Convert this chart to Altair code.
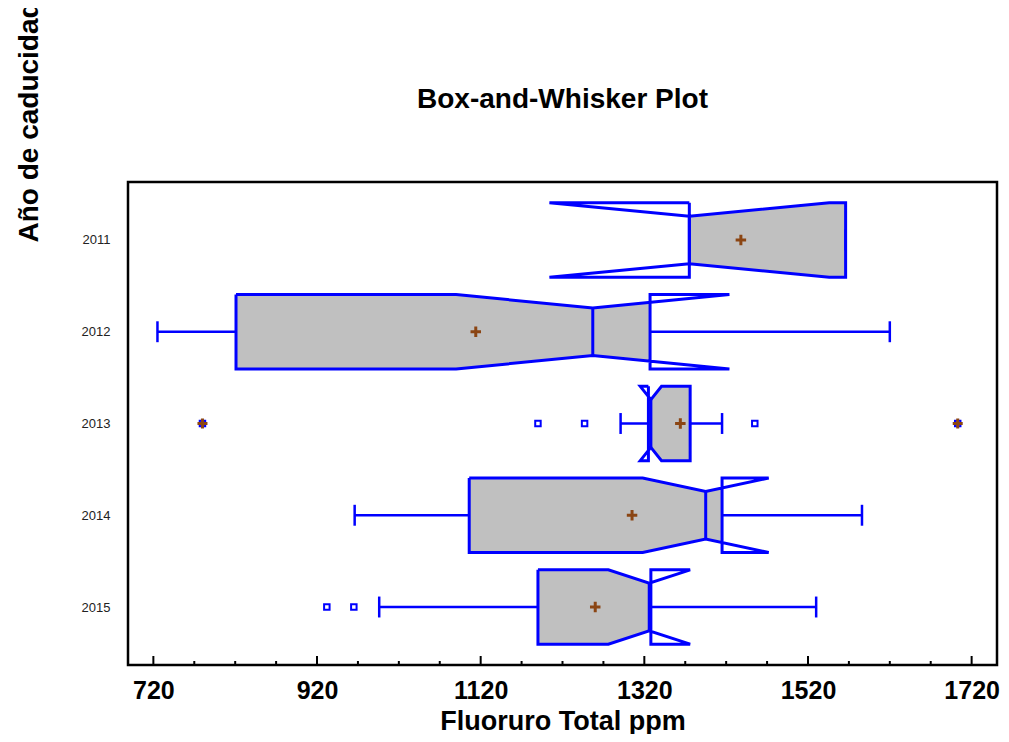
import altair as alt
import pandas as pd

# ---- data (ppm) ----
years = ["2011", "2012", "2013", "2014", "2015"]
whisker_lo = [1375, 725, 1291, 966, 996]
q1 = [1375, 821, 1325, 1106, 1190]
median = [1375, 1257, 1328, 1395, 1326]
q3 = [1566, 1327, 1376, 1415, 1328]
whisker_hi = [1566, 1620, 1415, 1586, 1530]
notch_lo = [1204, 1090, 1315, 1318, 1276]
notch_hi = [1546, 1424, 1341, 1472, 1376]
mean = [1438, 1114, 1364, 1305, 1260]
outlier_year = ["2013", "2013", "2013", "2013", "2013", "2015", "2015"]
outlier_value = [780, 1190, 1247, 1455, 1703, 932, 965]
outlier_far = [True, False, False, False, True, False, False]
major_ticks = [720, 920, 1120, 1320, 1520, 1720]
minor_ticks = [v for v in range(770, 1751, 50) if v not in major_ticks]
chart_title = ["Box-and-Whisker Plot"]

# ---- styling constants (in category units) ----
BOX = 0.405
NOTCH = 0.26
CAP = 0.114
BLUE = "#0000FF"
BROWN = "#8B4513"
FONT = "Liberation Sans"
W, H = 869, 483

def hw(i, x):
    m = median[i]
    if x <= m:
        d = m - notch_lo[i]
        t = (m - x) / d if d > 0 else 1.0
    else:
        d = notch_hi[i] - m
        t = (x - m) / d if d > 0 else 1.0
    t = min(t, 1.0)
    return NOTCH + (BOX - NOTCH) * t

fill_rows, out_rows, box_rows = [], [], []
for i, yr in enumerate(years):
    c = i
    clip = lambda v: min(max(v, q1[i]), q3[i])
    xs = sorted(set([q1[i], clip(notch_lo[i]), median[i], clip(notch_hi[i]), q3[i]]))
    for x in xs:
        h = hw(i, x)
        fill_rows.append({"year": yr, "x": x, "y": c - h, "y2": c + h})
    verts = [(q1[i], c - BOX), (notch_lo[i], c - BOX), (median[i], c - NOTCH),
             (notch_hi[i], c - BOX), (q3[i], c - BOX), (q3[i], c + BOX),
             (notch_hi[i], c + BOX), (median[i], c + NOTCH), (notch_lo[i], c + BOX),
             (q1[i], c + BOX), (q1[i], c - BOX)]
    for k, (x, y) in enumerate(verts):
        out_rows.append({"year": yr, "k": k, "x": x, "y": y})
    box_rows.append({"year": yr, "c": c, "wl": whisker_lo[i], "q1": q1[i], "med": median[i],
                     "q3": q3[i], "wh": whisker_hi[i], "mean": mean[i],
                     "ctop": c - CAP, "cbot": c + CAP, "ntop": c - NOTCH, "nbot": c + NOTCH})

fill_df = pd.DataFrame(fill_rows)
out_df = pd.DataFrame(out_rows)
box_df = pd.DataFrame(box_rows)
outl_df = pd.DataFrame({"year": outlier_year, "x": outlier_value, "far": outlier_far})
outl_df["c"] = outl_df["year"].map({y: i for i, y in enumerate(years)})
tick_df = pd.DataFrame({"t": major_ticks + minor_ticks,
                        "major": [True] * len(major_ticks) + [False] * len(minor_ticks)})

xscale = alt.Scale(domain=[689, 1751], nice=False, zero=False)
yscale = alt.Scale(domain=[-0.632, 4.632], reverse=True, nice=False, zero=False)
label_expr = "[" + ",".join("'%s'" % y for y in years) + "][datum.value]"

xaxis = alt.Axis(title="Fluoruro Total ppm", values=major_ticks, format="d", grid=False,
                 domain=False, ticks=False, tickSize=0, labelFont=FONT, labelFontSize=25,
                 labelFontWeight="bold", labelColor="black", labelBaseline="alphabetic",
                 labelPadding=33, labelFlush=False, titleFont=FONT, titleFontSize=27,
                 titleFontWeight="bold", titleColor="black", titleX=W / 2, titleY=64,
                 titleAlign="center", titleBaseline="alphabetic")
yaxis = alt.Axis(title="Año de caducidad", values=[0, 1, 2, 3, 4], labelExpr=label_expr,
                 grid=False, domain=False, ticks=False, tickSize=0, labelFont=FONT,
                 labelFontSize=13, labelColor="#222222", labelPadding=18,
                 labelBaseline="middle", titleFont=FONT, titleFontSize=28,
                 titleFontWeight="bold", titleColor="black", titleAngle=270,
                 titleX=-91, titleY=60, titleAlign="left", titleBaseline="alphabetic")

X = lambda f: alt.X(f, type="quantitative", scale=xscale, axis=xaxis)
Y = lambda f: alt.Y(f, type="quantitative", scale=yscale, axis=yaxis)

fill = alt.Chart(fill_df).mark_area(color="#C0C0C0", opacity=1).encode(
    x=X("x"), y=Y("y"), y2="y2", detail="year:N")

outline = alt.Chart(out_df).mark_line(color=BLUE, strokeWidth=3, strokeJoin="miter").encode(
    x=X("x"), y=Y("y"), order="k:Q", detail="year:N")

base = alt.Chart(box_df)
whisk_lo = base.mark_rule(color=BLUE, strokeWidth=2.5).encode(x=X("wl"), x2="q1", y=Y("c"))
whisk_hi = base.mark_rule(color=BLUE, strokeWidth=2.5).encode(x=X("q3"), x2="wh", y=Y("c"))
cap_lo = base.mark_rule(color=BLUE, strokeWidth=2.5).encode(x=X("wl"), y=Y("ctop"), y2="cbot")
cap_hi = base.mark_rule(color=BLUE, strokeWidth=2.5).encode(x=X("wh"), y=Y("ctop"), y2="cbot")
med = base.mark_rule(color=BLUE, strokeWidth=3).encode(x=X("med"), y=Y("ntop"), y2="nbot")

CROSS = "M-1,0L1,0M0,-1L0,1"
mean_pts = base.mark_point(shape=CROSS, filled=False, color=BROWN, strokeWidth=3,
                           size=110, opacity=1).encode(x=X("mean"), y=Y("c"))

outl = alt.Chart(outl_df).mark_point(shape="square", filled=False, color=BLUE,
                                     strokeWidth=2, size=30, opacity=1).encode(
    x=X("x"), y=Y("c"))
far = alt.Chart(outl_df).transform_filter("datum.far").mark_point(
    shape=CROSS, filled=False, color=BROWN, strokeWidth=3, size=100, opacity=1).encode(
    x=X("x"), y=Y("c"))

ticks_major = alt.Chart(tick_df).transform_filter("datum.major").mark_rule(
    color="black", strokeWidth=2).encode(x=X("t"), y=alt.value(H), y2=alt.value(H - 9))
ticks_minor = alt.Chart(tick_df).transform_filter("!datum.major").mark_rule(
    color="black", strokeWidth=2).encode(x=X("t"), y=alt.value(H), y2=alt.value(H - 4))

title_txt = alt.Chart(pd.DataFrame({"t": chart_title})).mark_text(
    font=FONT, fontSize=28, fontWeight="bold", color="black", align="center",
    baseline="alphabetic").encode(text="t:N", x=alt.value(W / 2), y=alt.value(-74))

chart = alt.layer(
    fill, outline, whisk_lo, whisk_hi, cap_lo, cap_hi, med, mean_pts, outl, far,
    ticks_major, ticks_minor, title_txt
).properties(
    width=W, height=H,
    autosize=alt.AutoSizeParams(type="none"),
    padding={"left": 120, "top": 174, "right": 4, "bottom": 69},
).configure_view(stroke="black", strokeWidth=2.5)

chart.save("out.html", embed_options={"renderer": "svg", "actions": False})
